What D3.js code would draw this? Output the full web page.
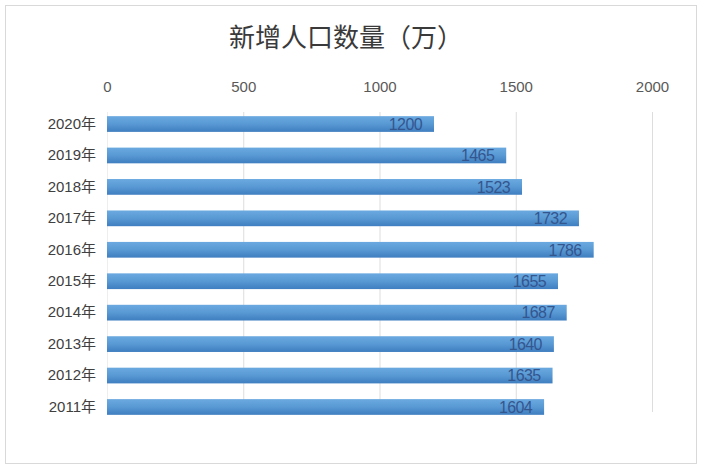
<!DOCTYPE html>
<html>
<head>
<meta charset="utf-8">
<script src="https://cdn.jsdelivr.net/npm/d3@7"></script>
<style>
  body { margin: 0; background: #fff; }
  text { font-family: "Liberation Sans", "Noto Sans CJK SC", sans-serif; }
</style>
</head>
<body>
<svg id="chart" width="706" height="470"></svg>
<script>
'use strict'

var years = ['2020年', '2019年', '2018年', '2017年', '2016年', '2015年', '2014年', '2013年', '2012年', '2011年'];
var births = [1200, 1465, 1523, 1732, 1786, 1655, 1687, 1640, 1635, 1604];
var ticks = [0, 500, 1000, 1500, 2000];

const svg = d3.select('#chart');

// frame
svg.append('rect')
    .attr('x', 5.5).attr('y', 5.5)
    .attr('width', 691).attr('height', 458)
    .attr('fill', '#fff')
    .attr('stroke', '#d9d9d9');

// bar gradient, a bit darker at the bottom
var grad = svg.append('defs').append('linearGradient')
    .attr('id', 'barfill')
    .attr('x1', 0).attr('y1', 0).attr('x2', 0).attr('y2', 1);
grad.append('stop').attr('offset', '0%').attr('stop-color', '#6aa9e0');
grad.append('stop').attr('offset', '45%').attr('stop-color', '#5b9bd5');
grad.append('stop').attr('offset', '100%').attr('stop-color', '#3f7ec0');

var x = d3.scaleLinear().domain([0, 2000]).range([107, 652]);
var y = d3.scaleBand().domain(years).range([108.3, 422.7]).paddingInner(0.5).paddingOuter(0.25);

// title
svg.append('text')
    .attr('x', 346).attr('y', 47)
    .attr('text-anchor', 'middle')
    .style('font-family', '"Noto Sans CJK SC", sans-serif')
    .style('font-size', '26px')
    .attr('fill', '#3a3a3a')
    .text('新增人口数量（万）');

// grid
svg.append('g').selectAll('line')
    .data(ticks)
    .enter().append('line')
    .attr('x1', d => x(d) + 0.5).attr('x2', d => x(d) + 0.5)
    .attr('y1', 112).attr('y2', 412)
    .attr('stroke', d => d == 0 ? '#eeeeee' : '#dddddd');

// top axis
var axis = svg.append('g')
    .attr('transform', 'translate(0,92)')
    .call(d3.axisTop(x).tickValues(ticks).tickFormat(d3.format('d')).tickSize(0).tickPadding(0));
axis.select('.domain').remove();
axis.selectAll('text')
    .attr('fill', '#595959')
    .style('font-size', '15px');

// year labels
var left = svg.append('g')
    .attr('transform', 'translate(96,0)')
    .call(d3.axisLeft(y).tickSize(0).tickPadding(0));
left.select('.domain').remove();
left.selectAll('text')
    .attr('fill', '#404040')
    .style('font-family', '"Liberation Sans", "Noto Sans CJK SC", sans-serif')
    .style('font-size', '15px');

// bars
svg.append('g').selectAll('rect')
    .data(births)
    .enter().append('rect')
    .attr('x', x(0))
    .attr('y', (d, i) => y(years[i]))
    .attr('width', d => x(d) - x(0))
    .attr('height', y.bandwidth())
    .attr('fill', 'url(#barfill)');

// value labels
svg.append('g').selectAll('text')
    .data(births)
    .enter().append('text')
    .attr('x', d => x(d) - 12)
    .attr('y', (d, i) => y(years[i]) + y.bandwidth() / 2)
    .attr('dy', '0.36em')
    .attr('text-anchor', 'end')
    .attr('fill', '#34568f')
    .style('font-size', '16px')
    .style('letter-spacing', '-0.6px')
    .text(d => d);
</script>
</body>
</html>
